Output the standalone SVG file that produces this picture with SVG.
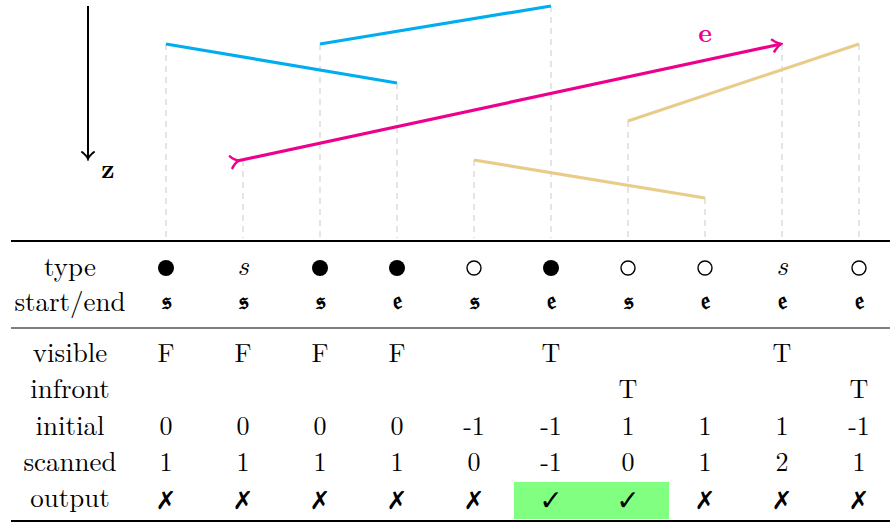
<svg xmlns="http://www.w3.org/2000/svg" width="890" height="525" viewBox="0 0 890 525">
<style>
.t{font-family:"Latin Modern Roman","Liberation Serif","DejaVu Serif",serif;font-size:26px;fill:#000;text-anchor:middle}
.lab{font-size:27px}
.it{font-style:italic;font-size:28px}
.fr{font-family:"DejaVu Serif","DejaVu Sans","Noto Sans",serif;font-size:25px;font-weight:bold;text-anchor:middle}
.sym{font-family:"DejaVu Sans",sans-serif;font-size:25px;font-weight:bold;text-anchor:middle}
.chk{font-size:28px}
.dash{stroke:#d4d4d4;stroke-width:1.2;stroke-dasharray:6,5;fill:none}
.blue{stroke:#00aeef;stroke-width:3.2;fill:none}
.tan{stroke:#e8cc8a;stroke-width:3.2;fill:none}
.mag{stroke:#ec008c;stroke-width:3.2;fill:none}
.rule{stroke:#000;fill:none}
</style>
<defs>
<marker id="ah" viewBox="-10 -8 12 16" refX="0" refY="0" markerWidth="12" markerHeight="16" markerUnits="userSpaceOnUse" orient="auto">
<path d="M-8,-6 Q-3,-1 0,0 Q-3,1 -8,6" fill="none" stroke="#ec008c" stroke-width="2.5" stroke-linecap="round"/>
</marker>
<marker id="tail" viewBox="-10 -8 20 16" refX="0" refY="0" markerWidth="20" markerHeight="16" markerUnits="userSpaceOnUse" orient="auto">
<path d="M-6,-6 Q-2,-1 2,0 Q-2,1 -6,6" fill="none" stroke="#ec008c" stroke-width="2.5" stroke-linecap="round"/>
</marker>
<marker id="zh" viewBox="-10 -8 12 16" refX="0" refY="0" markerWidth="12" markerHeight="16" markerUnits="userSpaceOnUse" orient="auto">
<path d="M-7,-6 Q-3,-1 0,0 Q-3,1 -7,6" fill="none" stroke="#000" stroke-width="2" stroke-linecap="round"/>
</marker>
</defs>

<g id="guides">
<line class="dash" x1="166" y1="44" x2="166" y2="238"/>
<line class="dash" x1="243" y1="160" x2="243" y2="238"/>
<line class="dash" x1="320" y1="44" x2="320" y2="238"/>
<line class="dash" x1="397" y1="83" x2="397" y2="238"/>
<line class="dash" x1="474" y1="160" x2="474" y2="238"/>
<line class="dash" x1="551" y1="6" x2="551" y2="238"/>
<line class="dash" x1="628" y1="121" x2="628" y2="238"/>
<line class="dash" x1="705" y1="198" x2="705" y2="238"/>
<line class="dash" x1="782" y1="44" x2="782" y2="238"/>
<line class="dash" x1="859" y1="44" x2="859" y2="238"/>
</g>

<g id="zaxis">
<line x1="88" y1="6" x2="88" y2="159" stroke="#000" stroke-width="2" marker-end="url(#zh)"/>
<text x="108" y="178" font-family="Latin Modern Roman,'Liberation Serif','DejaVu Serif',serif" font-size="26" font-weight="bold" text-anchor="middle">z</text>
</g>

<g id="segments">
<line id="blue1" class="blue" x1="166" y1="44" x2="397" y2="83"/>
<line id="blue2" class="blue" x1="320" y1="44" x2="551" y2="6"/>
<line id="tan1" class="tan" x1="474" y1="160" x2="705" y2="198"/>
<line id="tan2" class="tan" x1="628" y1="121" x2="859" y2="44"/>
<line id="edge-e" class="mag" x1="237" y1="161" x2="781" y2="44" marker-start="url(#tail)" marker-end="url(#ah)"/>
<text x="705" y="42" font-family="Latin Modern Roman,'Liberation Serif','DejaVu Serif',serif" font-size="26" font-weight="bold" fill="#ec008c" text-anchor="middle">e</text>
</g>

<g id="table">
<rect x="514" y="482" width="155" height="37" fill="#80ff80"/>
<line class="rule" x1="11" y1="241" x2="890" y2="241" stroke-width="2"/>
<line class="rule" x1="11" y1="328" x2="890" y2="328" stroke-width="1.2"/>
<line class="rule" x1="11" y1="521" x2="890" y2="521" stroke-width="2"/>

<g id="labels" class="t lab">
<text x="70" y="276">type</text>
<text x="70" y="311">start/end</text>
<text x="70" y="362">visible</text>
<text x="70" y="398">infront</text>
<text x="70" y="435">initial</text>
<text x="70" y="471">scanned</text>
<text x="70" y="507">output</text>
</g>

<g id="row-type">
<circle cx="166" cy="268" r="8" fill="#000"/>
<text class="t it" x="243" y="275">s</text>
<circle cx="320" cy="268" r="8" fill="#000"/>
<circle cx="397" cy="268" r="8" fill="#000"/>
<circle cx="474" cy="268" r="7" fill="none" stroke="#000" stroke-width="1.4"/>
<circle cx="551" cy="268" r="8" fill="#000"/>
<circle cx="628" cy="268" r="7" fill="none" stroke="#000" stroke-width="1.4"/>
<circle cx="705" cy="268" r="7" fill="none" stroke="#000" stroke-width="1.4"/>
<text class="t it" x="782" y="275">s</text>
<circle cx="859" cy="268" r="7" fill="none" stroke="#000" stroke-width="1.4"/>
</g>

<g id="row-startend" class="fr">
<text x="166" y="309">𝔰</text>
<text x="243" y="309">𝔰</text>
<text x="320" y="309">𝔰</text>
<text x="397" y="309">𝔢</text>
<text x="474" y="309">𝔰</text>
<text x="551" y="309">𝔢</text>
<text x="628" y="309">𝔰</text>
<text x="705" y="309">𝔢</text>
<text x="782" y="309">𝔢</text>
<text x="859" y="309">𝔢</text>
</g>

<g id="row-visible" class="t">
<text x="166" y="362">F</text>
<text x="243" y="362">F</text>
<text x="320" y="362">F</text>
<text x="397" y="362">F</text>
<text x="551" y="362">T</text>
<text x="782" y="362">T</text>
</g>

<g id="row-infront" class="t">
<text x="628" y="398">T</text>
<text x="859" y="398">T</text>
</g>

<g id="row-initial" class="t">
<text x="166" y="435">0</text>
<text x="243" y="435">0</text>
<text x="320" y="435">0</text>
<text x="397" y="435">0</text>
<text x="474" y="435">-1</text>
<text x="551" y="435">-1</text>
<text x="628" y="435">1</text>
<text x="705" y="435">1</text>
<text x="782" y="435">1</text>
<text x="859" y="435">-1</text>
</g>

<g id="row-scanned" class="t">
<text x="166" y="471">1</text>
<text x="243" y="471">1</text>
<text x="320" y="471">1</text>
<text x="397" y="471">1</text>
<text x="474" y="471">0</text>
<text x="551" y="471">-1</text>
<text x="628" y="471">0</text>
<text x="705" y="471">1</text>
<text x="782" y="471">2</text>
<text x="859" y="471">1</text>
</g>

<g id="row-output" class="sym">
<text x="166" y="509">✗</text>
<text x="243" y="509">✗</text>
<text x="320" y="509">✗</text>
<text x="397" y="509">✗</text>
<text x="474" y="509">✗</text>
<text class="chk" x="551" y="510">✓</text>
<text class="chk" x="628" y="510">✓</text>
<text x="705" y="509">✗</text>
<text x="782" y="509">✗</text>
<text x="859" y="509">✗</text>
</g>
</g>
</svg>
